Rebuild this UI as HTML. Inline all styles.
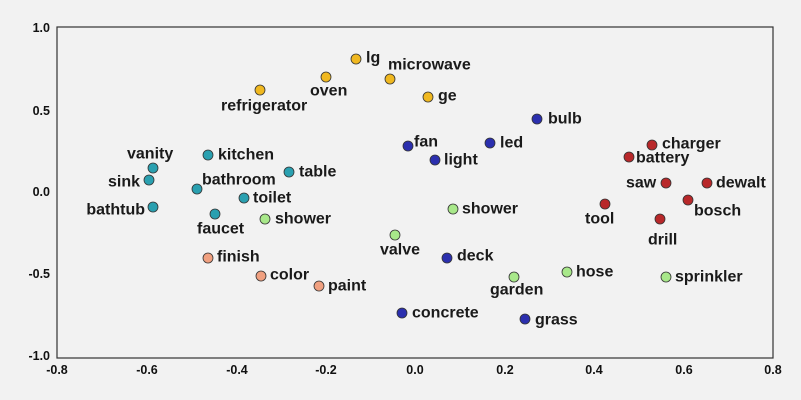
<!DOCTYPE html><html><head><style>html,body{margin:0;padding:0;background:#f2f2f2}svg{display:block}text{font-family:"Liberation Sans","DejaVu Sans",sans-serif}.l{font-size:16px;font-weight:bold;fill:#1a1a1a;dominant-baseline:central}.t{font-size:12.5px;fill:#111;font-weight:bold}</style></head><body>
<svg width="801" height="400" xmlns="http://www.w3.org/2000/svg">
<rect width="801" height="400" fill="#f2f2f2"/>
<rect x="57" y="27" width="716" height="331" fill="none" stroke="#333" stroke-width="1.2"/>
<g class="t" text-anchor="end">
<text x="50" y="32">1.0</text><text x="50" y="115">0.5</text><text x="50" y="196">0.0</text><text x="50" y="278">-0.5</text><text x="50" y="360">-1.0</text></g>
<g class="t" text-anchor="middle">
<text x="57" y="374">-0.8</text><text x="147" y="374">-0.6</text><text x="237" y="374">-0.4</text><text x="326" y="374">-0.2</text><text x="415" y="374">0.0</text><text x="505" y="374">0.2</text><text x="594" y="374">0.4</text><text x="684" y="374">0.6</text><text x="773" y="374">0.8</text></g>
<g stroke="#333" stroke-width="0.8">
<g fill="#f0b820"><circle cx="356" cy="59" r="5"/><circle cx="390" cy="79" r="5"/><circle cx="326" cy="77" r="5"/><circle cx="260" cy="90" r="5"/><circle cx="428" cy="97" r="5"/></g>
<g fill="#2b2fae"><circle cx="537" cy="119" r="5"/><circle cx="408" cy="146" r="5"/><circle cx="490" cy="143" r="5"/><circle cx="435" cy="160" r="5"/><circle cx="447" cy="258" r="5"/><circle cx="402" cy="313" r="5"/><circle cx="525" cy="319" r="5"/></g>
<g fill="#b8282a"><circle cx="652" cy="145" r="5"/><circle cx="629" cy="157" r="5"/><circle cx="666" cy="183" r="5"/><circle cx="707" cy="183" r="5"/><circle cx="688" cy="200" r="5"/><circle cx="605" cy="204" r="5"/><circle cx="660" cy="219" r="5"/></g>
<g fill="#a8e88a"><circle cx="453" cy="209" r="5"/><circle cx="395" cy="235" r="5"/><circle cx="567" cy="272" r="5"/><circle cx="514" cy="277" r="5"/><circle cx="666" cy="277" r="5"/><circle cx="265" cy="219" r="5"/></g>
<g fill="#2aa0b0"><circle cx="153" cy="168" r="5"/><circle cx="208" cy="155" r="5"/><circle cx="289" cy="172" r="5"/><circle cx="149" cy="180" r="5"/><circle cx="197" cy="189" r="5"/><circle cx="244" cy="198" r="5"/><circle cx="153" cy="207" r="5"/><circle cx="215" cy="214" r="5"/></g>
<g fill="#f0a080"><circle cx="208" cy="258" r="5"/><circle cx="261" cy="276" r="5"/><circle cx="319" cy="286" r="5"/></g>
</g>
<g class="l">
<text x="366" y="58">lg</text><text x="388" y="65">microwave</text><text x="310" y="91">oven</text><text x="221" y="106">refrigerator</text><text x="438" y="96">ge</text>
<text x="548" y="119">bulb</text><text x="414" y="142">fan</text><text x="500" y="143">led</text><text x="444" y="160">light</text>
<text x="662" y="144">charger</text><text x="636" y="158">battery</text><text x="626" y="183">saw</text><text x="716" y="183">dewalt</text><text x="694" y="211">bosch</text><text x="585" y="219">tool</text><text x="648" y="240">drill</text>
<text x="462" y="209">shower</text><text x="380" y="250">valve</text><text x="457" y="256">deck</text><text x="576" y="272">hose</text><text x="490" y="290">garden</text><text x="675" y="277">sprinkler</text>
<text x="412" y="313">concrete</text><text x="535" y="320">grass</text>
<text x="127" y="154">vanity</text><text x="218" y="155">kitchen</text><text x="299" y="172">table</text><text x="140" y="182" text-anchor="end">sink</text><text x="202" y="180">bathroom</text><text x="253" y="198">toilet</text><text x="145" y="210" text-anchor="end">bathtub</text><text x="197" y="229">faucet</text><text x="275" y="219">shower</text>
<text x="217" y="257">finish</text><text x="270" y="275">color</text><text x="328" y="286">paint</text>
</g>
</svg></body></html>
